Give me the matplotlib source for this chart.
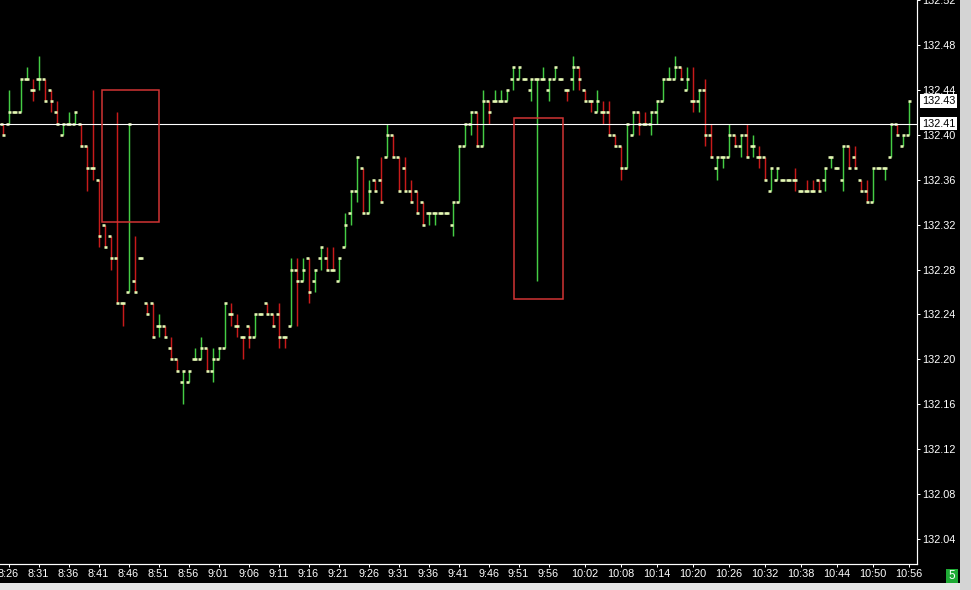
import matplotlib
matplotlib.use('Agg')
import matplotlib.pyplot as plt
from matplotlib.patches import Rectangle
from matplotlib.collections import LineCollection
import matplotlib.transforms as mtrans
import numpy as np

# ==============================
# データ（1分足 OHLC, 132.00 からの 0.01 単位）
# ==============================
BASE = 132.00
START_MIN = 8 * 60 + 25   # 最初の足 8:25

open_pts = [41, 41, 42, 42, 45, 44, 45, 45, 44, 42,
            40, 41, 41, 41, 39, 37, 36, 32, 31, 29,
            25, 26, 27, 29, 25, 25, 23, 23, 21, 20,
            18, 18, 20, 20, 21, 19, 20, 21, 24, 23,
            22, 23, 22, 24, 25, 24, 24, 22, 23, 28,
            27, 29, 27, 29, 29, 28, 27, 30, 33, 35,
            37, 33, 36, 36, 38, 40, 38, 37, 35, 35,
            34, 33, 33, 33, 33, 32, 34, 39, 41, 42,
            39, 43, 43, 43, 43, 45, 45, 45, 44, 45,
            45, 44, 45, 45, 44, 45, 46, 44, 43, 42,
            42, 42, 40, 39, 37, 40, 42, 41, 41, 42,
            43, 45, 45, 46, 44, 43, 43, 44, 40, 37,
            38, 38, 40, 39, 40, 39, 38, 38, 35, 36,
            36, 36, 36, 35, 35, 35, 36, 36, 38, 37,
            36, 39, 38, 36, 35, 34, 37, 37, 38, 41,
            39, 40]
high_pts = [41, 44, 42, 45, 46, 45, 47, 45, 44, 43,
            41, 42, 42, 41, 39, 44, 36, 32, 31, 42,
            25, 41, 31, 29, 25, 25, 24, 23, 22, 20,
            19, 19, 21, 22, 21, 21, 21, 25, 25, 24,
            22, 23, 24, 24, 25, 24, 25, 22, 29, 29,
            29, 29, 28, 30, 30, 30, 29, 33, 35, 38,
            37, 36, 36, 38, 41, 40, 38, 38, 36, 35,
            34, 33, 33, 33, 33, 34, 39, 41, 42, 42,
            44, 43, 44, 44, 44, 46, 46, 45, 45, 45,
            46, 45, 46, 45, 44, 47, 46, 44, 43, 44,
            43, 43, 40, 39, 41, 42, 42, 42, 42, 43,
            45, 46, 47, 46, 46, 46, 44, 45, 41, 38,
            38, 41, 40, 40, 41, 40, 39, 38, 37, 37,
            36, 36, 37, 35, 36, 36, 36, 37, 38, 37,
            39, 39, 39, 36, 36, 37, 37, 37, 41, 41,
            40, 43]
low_pts = [40, 41, 42, 42, 45, 43, 44, 43, 42, 41,
           40, 41, 41, 39, 35, 36, 30, 30, 28, 25,
           23, 26, 26, 29, 24, 22, 22, 22, 20, 19,
           16, 18, 20, 20, 19, 18, 20, 21, 23, 22,
           20, 21, 22, 24, 24, 23, 21, 21, 23, 23,
           27, 25, 26, 28, 28, 28, 27, 30, 32, 34,
           33, 33, 35, 34, 38, 38, 35, 35, 34, 33,
           32, 32, 32, 33, 33, 31, 34, 39, 40, 39,
           39, 41, 43, 43, 43, 44, 45, 45, 43, 27,
           45, 43, 45, 45, 43, 44, 44, 43, 42, 42,
           41, 40, 39, 36, 37, 40, 40, 41, 40, 41,
           43, 45, 45, 45, 44, 42, 42, 39, 38, 36,
           37, 38, 39, 38, 38, 38, 37, 36, 35, 36,
           36, 36, 35, 35, 35, 35, 35, 35, 37, 37,
           35, 37, 37, 35, 34, 34, 37, 36, 38, 40,
           39, 40]
close_pts = [40, 42, 42, 45, 45, 44, 45, 43, 43, 41,
             41, 41, 42, 39, 37, 37, 31, 30, 29, 25,
             25, 41, 26, 29, 24, 22, 23, 22, 20, 19,
             19, 19, 20, 21, 19, 20, 21, 25, 24, 23,
             22, 22, 24, 24, 24, 23, 22, 22, 28, 27,
             28, 26, 28, 30, 28, 28, 29, 32, 35, 38,
             33, 35, 35, 34, 40, 38, 35, 35, 34, 33,
             32, 33, 33, 33, 33, 34, 39, 41, 42, 39,
             43, 42, 43, 43, 44, 46, 46, 45, 45, 45,
             45, 45, 46, 45, 44, 46, 45, 43, 43, 43,
             42, 40, 39, 37, 41, 42, 41, 41, 42, 43,
             45, 45, 46, 45, 45, 43, 44, 40, 38, 38,
             38, 40, 39, 40, 38, 39, 38, 36, 37, 37,
             36, 36, 36, 35, 35, 35, 35, 37, 38, 37,
             39, 37, 37, 35, 34, 37, 37, 37, 41, 40,
             40, 43]

x_labels = ['8:26', '8:31', '8:36', '8:41', '8:46', '8:51', '8:56', '9:01',
            '9:06', '9:11', '9:16', '9:21', '9:26', '9:31', '9:36', '9:41',
            '9:46', '9:51', '9:56', '10:02', '10:08', '10:14', '10:20',
            '10:26', '10:32', '10:38', '10:44', '10:50', '10:56']
y_ticks = [132.04, 132.08, 132.12, 132.16, 132.20, 132.24, 132.28,
           132.32, 132.36, 132.40, 132.44, 132.48, 132.52]
ref_price = 132.41
last_price = 132.43
# 赤枠 (足番号 開始, 終了 / 価格 下, 上)
box_bars = [(16.58, 26.08), (85.25, 93.37)]
box_prices = [(132.3227, 132.44), (132.254, 132.4151)]

# ==============================
# 色・レイアウト
# ==============================
FIG_W, FIG_H = 971, 590
PLOT_R, PLOT_B = 917, 564
BG = 'black'
UP_C = '#44cc44'
DN_C = '#c81a1a'
TICK_C = '#e4f8b4'
FONT = 'Liberation Sans'
FS = 7.8
PX = 0.72    # 1px (pt)
TICK_W = 0.38  # 始値・終値の四角の幅（足単位）

o = BASE + np.array(open_pts) / 100
h = BASE + np.array(high_pts) / 100
l = BASE + np.array(low_pts) / 100
c = BASE + np.array(close_pts) / 100
n = len(o)
xs = np.arange(n)
bar_times = ['%d:%02d' % ((START_MIN + i) // 60, (START_MIN + i) % 60) for i in range(n)]

# 陽線/陰線（同値なら前の終値と比較）
up = []
prev = True
for i in range(n):
    if c[i] > o[i]:
        u = True
    elif c[i] < o[i]:
        u = False
    elif i > 0 and c[i] > c[i - 1]:
        u = True
    elif i > 0 and c[i] < c[i - 1]:
        u = False
    else:
        u = prev
    up.append(u)
    prev = u

fig = plt.figure(figsize=(FIG_W / 100, FIG_H / 100), dpi=100)
fig.patch.set_facecolor(BG)

# 窓枠（下と右のグレー）
fig.patches.append(Rectangle((0, 0), 1, 7 / FIG_H, transform=fig.transFigure,
                             facecolor='#e6e6e6', edgecolor='none', zorder=0))
fig.patches.append(Rectangle((960 / FIG_W, 0), 11 / FIG_W, 1, transform=fig.transFigure,
                             facecolor='#d4d4d4', edgecolor='none', zorder=0))
# 右下の緑ボックス
fig.patches.append(Rectangle((946 / FIG_W, (FIG_H - 583) / FIG_H), 12 / FIG_W, 14 / FIG_H,
                             transform=fig.transFigure, facecolor='#1faa35',
                             edgecolor='none', zorder=1))
fig.text(952 / FIG_W, (FIG_H - 576) / FIG_H, '5', color='white', ha='center', va='center',
         fontsize=8.5, fontfamily=FONT)

ax = fig.add_axes([0, (FIG_H - PLOT_B) / FIG_H, PLOT_R / FIG_W, PLOT_B / FIG_H])
ax.set_facecolor(BG)

# 価格 <-> ピクセル: 132.40 が y=134, 0.01 = 11.25px
y_top = 132.40 + 134 / 1125
y_bot = 132.40 - (PLOT_B - 134) / 1125
ax.set_ylim(y_bot, y_top)
ax.set_xlim(-2.5 / 6, (PLOT_R - 2.5) / 6)

# 足の縦線
segs = [[(xs[i], l[i]), (xs[i], h[i])] for i in range(n)]
cols = [UP_C if u else DN_C for u in up]
ax.add_collection(LineCollection(segs, colors=cols, linewidths=1.05, zorder=2))

# 始値・終値の小さな四角（短い太線）
open_segs = [[(xs[i] - TICK_W, o[i]), (xs[i] + 0.02, o[i])] for i in range(n)]
close_segs = [[(xs[i] - 0.02, c[i]), (xs[i] + TICK_W, c[i])] for i in range(n)]
ax.add_collection(LineCollection(open_segs + close_segs, colors=TICK_C,
                                 linewidths=1.85, capstyle='butt', zorder=3))

# 基準線
ax.axhline(ref_price, color='white', linewidth=PX * 1.1, zorder=4)

# 赤枠
for (b0, b1), (p0, p1) in zip(box_bars, box_prices):
    ax.add_patch(Rectangle((b0, p0), b1 - b0, p1 - p0, fill=False,
                           edgecolor='#d03434', linewidth=1.1, zorder=5))

# 軸
for s in ['top', 'left']:
    ax.spines[s].set_visible(False)
for s in ['right', 'bottom']:
    ax.spines[s].set_color('white')
    ax.spines[s].set_linewidth(PX * 1.2)

ax.yaxis.tick_right()
ax.set_yticks(y_ticks)
ax.set_yticklabels(['%.2f' % v for v in y_ticks])
ax.set_xticks([bar_times.index(t) for t in x_labels])
ax.set_xticklabels(x_labels)
ax.tick_params(axis='both', colors='white', direction='out', length=2.3, width=PX,
               labelsize=FS, pad=1.3)
for lab in ax.get_xticklabels() + ax.get_yticklabels():
    lab.set_fontfamily(FONT)

# 価格ラベル（白地）
trans = mtrans.blended_transform_factory(ax.transAxes, ax.transData)
for p in [last_price, ref_price]:
    ax.text(1 + 5.0 / PLOT_R, p, '%.2f' % p, transform=trans, ha='left', va='center',
            fontsize=FS, fontfamily=FONT, color='black', clip_on=False, zorder=6,
            bbox=dict(boxstyle='square,pad=0.17', facecolor='white', edgecolor='none'))

fig.savefig('out.png', dpi=100, facecolor=BG)
